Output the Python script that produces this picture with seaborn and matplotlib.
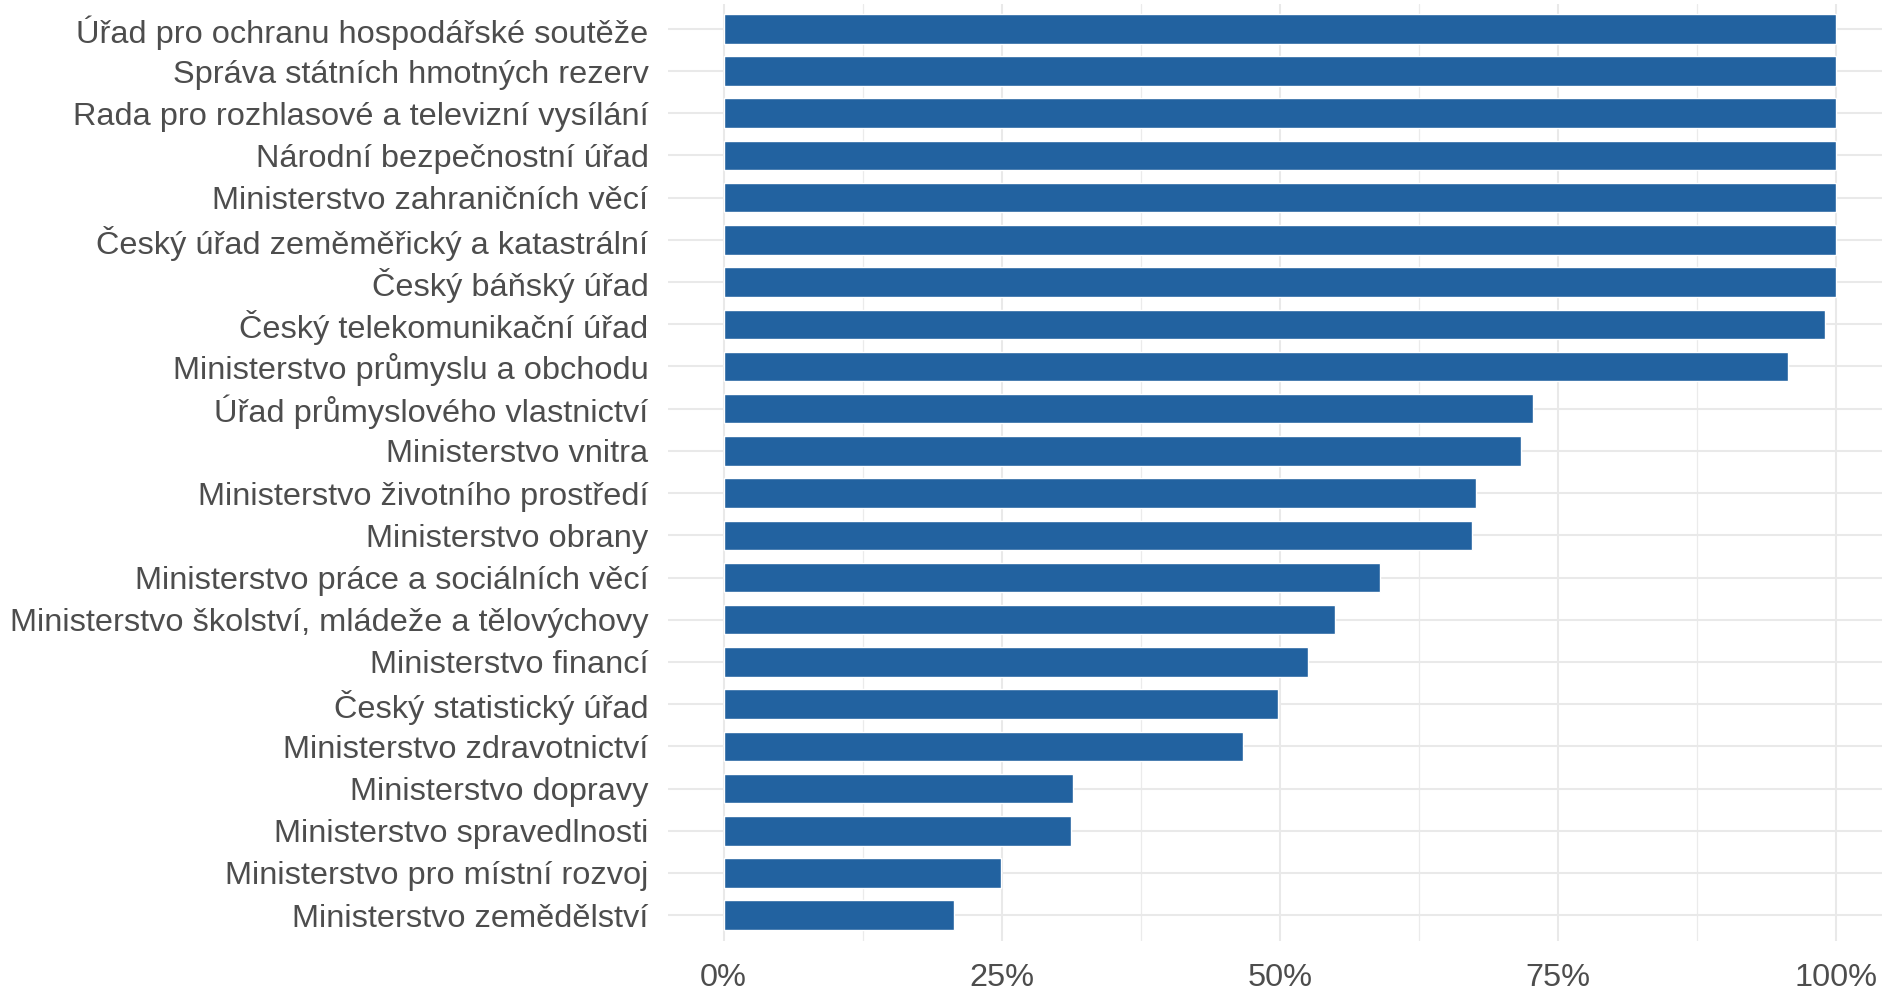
import numpy as np
import pandas as pd
import matplotlib
matplotlib.use('Agg')
import matplotlib.pyplot as plt
import seaborn as sns
from matplotlib.ticker import FixedLocator, FuncFormatter

# Úřady seřazené shora dolů
urady = [
    'Úřad pro ochranu hospodářské soutěže',
    'Správa státních hmotných rezerv',
    'Rada pro rozhlasové a televizní vysílání',
    'Národní bezpečnostní úřad',
    'Ministerstvo zahraničních věcí',
    'Český úřad zeměměřický a katastrální',
    'Český báňský úřad',
    'Český telekomunikační úřad',
    'Ministerstvo průmyslu a obchodu',
    'Úřad průmyslového vlastnictví',
    'Ministerstvo vnitra',
    'Ministerstvo životního prostředí',
    'Ministerstvo obrany',
    'Ministerstvo práce a sociálních věcí',
    'Ministerstvo školství, mládeže a tělovýchovy',
    'Ministerstvo financí',
    'Český statistický úřad',
    'Ministerstvo zdravotnictví',
    'Ministerstvo dopravy',
    'Ministerstvo spravedlnosti',
    'Ministerstvo pro místní rozvoj',
    'Ministerstvo zemědělství',
]

# podíl (0–1)
podil = [1.0, 1.0, 1.0, 1.0, 1.0, 1.0, 1.0, 0.990, 0.957,
         0.728, 0.717, 0.676, 0.673, 0.590, 0.550, 0.525,
         0.498, 0.467, 0.314, 0.312, 0.249, 0.207]

x_ticks = [0, 0.25, 0.5, 0.75, 1.0]
x_minor = [0.125, 0.375, 0.625, 0.875]

df = pd.DataFrame({'urad': urady, 'podil': podil})

sns.set_style('white')
plt.rcParams['font.family'] = ['Liberation Sans', 'DejaVu Sans']

W, H = 1883, 991
fig = plt.figure(figsize=(W / 100, H / 100), dpi=100)
ax = fig.add_axes([668 / W, 1 - 940.5 / H, (1891.6 - 668) / W, (940.5 - 3.5) / H])

sns.barplot(data=df, y='urad', x='podil', order=urady, orient='h',
            color='#2262a0', saturation=1, width=0.70, ax=ax, zorder=3)

ax.set_xlim(-0.05, 1.05)
ax.set_ylim(len(urady) - 0.4, -0.6)

ax.xaxis.set_major_locator(FixedLocator(x_ticks))
ax.xaxis.set_minor_locator(FixedLocator(x_minor))
ax.xaxis.set_major_formatter(FuncFormatter(lambda v, p: f'{v*100:.0f}%'))

ax.grid(True, which='major', axis='both', color='#e9e9e9', linewidth=1.5, zorder=0)
ax.grid(True, which='minor', axis='x', color='#ebebeb', linewidth=0.9, zorder=0)
ax.set_axisbelow(True)

for s in ax.spines.values():
    s.set_visible(False)

ax.set_xlabel('')
ax.set_ylabel('')
ax.tick_params(axis='both', which='both', length=0, labelsize=23.4, labelcolor='#4d4d4d')
ax.tick_params(axis='y', pad=14)
ax.tick_params(axis='x', pad=16)

plt.savefig('out.png', dpi=100)
plt.close()
